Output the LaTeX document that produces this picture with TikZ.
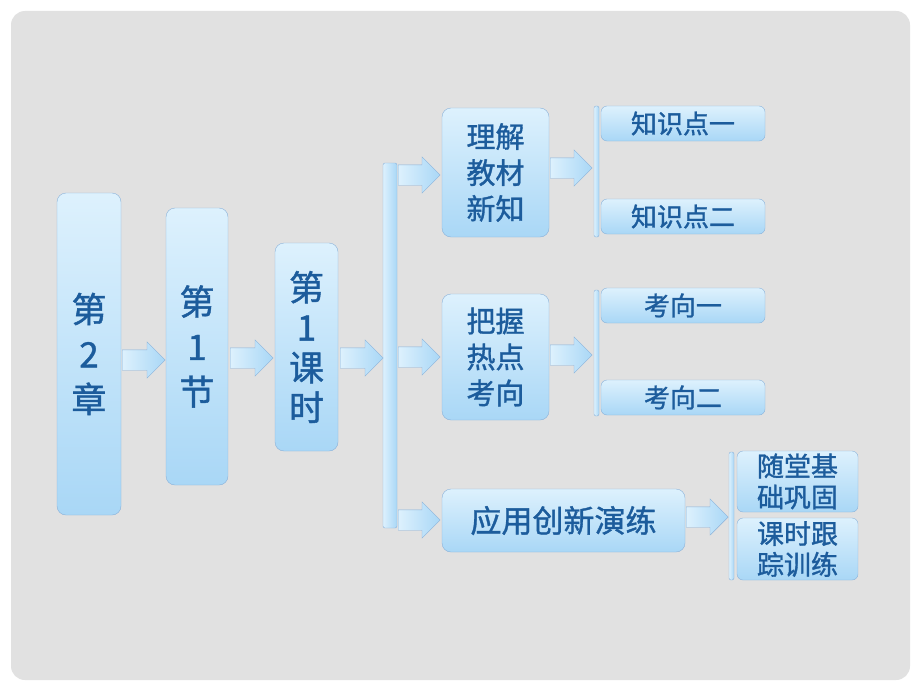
\documentclass[tikz,border=0pt]{standalone}
\usepackage{fontspec}
\usepackage{tikz}
\usetikzlibrary{shapes.arrows}
\newfontfamily\cjk{Noto Sans CJK SC}[FakeBold=1.2]
\definecolor{panel_gray}{HTML}{E1E1E1}
\definecolor{box_top}{HTML}{DDF1FD}
\definecolor{box_bottom}{HTML}{A9D7F6}
\definecolor{box_line}{HTML}{8AB2DA}
\definecolor{text_blue}{HTML}{1C5C9C}

\begin{document}
\begin{tikzpicture}[x=1pt, y=-1pt]
            % Styles
            \tikzstyle{box} = [rectangle, rounded corners=9pt, draw=box_line, top color=box_top, bottom color=box_bottom, text=text_blue, align=center, inner sep=0pt]
            \tikzstyle{bigbox} = [box, font=\cjk\fontsize{35}{45}\selectfont]
            \tikzstyle{midbox} = [box, font=\cjk\fontsize{29}{36}\selectfont]
            \tikzstyle{smallbox} = [box, rounded corners=6pt, font=\cjk\fontsize{26}{30}\selectfont]
            \tikzstyle{tallbox} = [box, rounded corners=6pt, font=\cjk\fontsize{27}{31}\selectfont]
            \tikzstyle{bar} = [rectangle, rounded corners=2pt, draw=box_line, left color=box_top, right color=box_bottom, inner sep=0pt]
            \tikzstyle{fat} = [single arrow, anchor=tail, draw=box_line, left color=box_top, right color=box_bottom, inner xsep=0pt, inner ysep=10pt, single arrow head extend=8pt, minimum height=43pt]

            % Background panel
            \useasboundingbox (0,0) rectangle (920,690);
            \fill[white] (0,0) rectangle (920,690);
            \fill[panel_gray, rounded corners=14pt] (11,11) rectangle (910,680);

            % Nodes: chapter, section, lesson
            \node[bigbox, minimum width=64pt, minimum height=322pt] (chap) at (89,354) {第\\2\\章};
            \node[bigbox, minimum width=62pt, minimum height=277pt] (sect) at (197,346.5) {第\\1\\节};
            \node[bigbox, minimum width=63pt, minimum height=208pt, font=\cjk\fontsize{35}{40}\selectfont] (less) at (306.5,347) {第\\1\\课\\时};
            \node[bar, minimum width=14pt, minimum height=365pt] (mainbar) at (390,345.5) {};

            % Nodes: parts
            \node[midbox, minimum width=107pt, minimum height=129pt] (learn) at (495.5,172.5) {理解\\教材\\新知};
            \node[midbox, minimum width=107pt, minimum height=126pt] (grasp) at (495.5,357) {把握\\热点\\考向};
            \node[midbox, minimum width=243pt, minimum height=63pt, font=\cjk\fontsize{31}{36}\selectfont] (apply) at (563.5,520.5) {应用创新演练};

            % Nodes: thin bars
            \node[bar, minimum width=5pt, minimum height=131pt] (bar1) at (596.5,171.5) {};
            \node[bar, minimum width=5pt, minimum height=126pt] (bar2) at (596.5,353) {};
            \node[bar, minimum width=5pt, minimum height=128pt] (bar3) at (731.5,516) {};

            % Nodes: items
            \node[smallbox, minimum width=164pt, minimum height=35pt] (know1) at (683,123.5) {知识点一};
            \node[smallbox, minimum width=164pt, minimum height=35pt] (know2) at (683,216.5) {知识点二};
            \node[smallbox, minimum width=164pt, minimum height=35pt] (dir1) at (683,305.5) {考向一};
            \node[smallbox, minimum width=164pt, minimum height=35pt] (dir2) at (683,397.5) {考向二};
            \node[tallbox, minimum width=121pt, minimum height=61pt] (drill1) at (797.5,481.5) {随堂基\\础巩固};
            \node[tallbox, minimum width=121pt, minimum height=62pt] (drill2) at (797.5,549) {课时跟\\踪训练};

            % Block arrows
            \node[fat] (a1) at (122,360) {};
            \node[fat] (a2) at (230,358) {};
            \node[fat] (a3) at (340,358) {};
            \node[fat, minimum height=42pt] (a4) at (398,175) {};
            \node[fat, minimum height=42pt] (a5) at (398,357) {};
            \node[fat, minimum height=42pt] (a6) at (398,520) {};
            \node[fat, minimum height=42pt] (a7) at (550,168) {};
            \node[fat, minimum height=42pt] (a8) at (550,355) {};
            \node[fat, minimum height=42pt] (a9) at (686,517) {};
        \end{tikzpicture}
\end{document}
